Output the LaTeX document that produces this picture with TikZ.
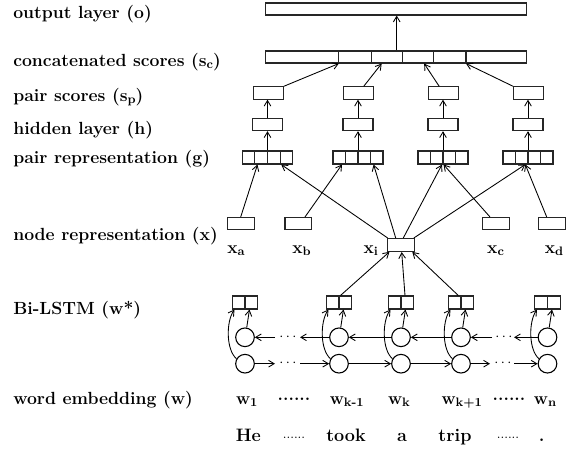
\documentclass[tikz,border=0pt]{standalone}
\usetikzlibrary{arrows.meta,calc}
\newcommand\lsub[1]{\raisebox{-0.3ex}{\fontsize{9.2}{10}\selectfont #1}}
\begin{document}
\begin{tikzpicture}[x=0.75pt,y=-0.75pt,
  bx/.style={draw=black!85, line width=0.8pt, inner sep=0pt, fill=white},
  wide/.style={bx, minimum width=195.2pt, minimum height=9pt},
  small/.style={bx, minimum width=22.5pt, minimum height=9.2pt},
  gbox/.style={bx, minimum width=37.5pt, minimum height=9.75pt},
  xbox/.style={bx, minimum width=20pt, minimum height=9pt},
  bbox/.style={bx, minimum width=19pt, minimum height=9.75pt},
  cir/.style={draw=black, line width=0.8pt, circle, inner sep=0pt, minimum size=14pt},
  cell/.style={draw=black!85, line width=0.8pt},
  arr/.style={-{Straight Barb[length=4.2pt,width=5pt]}, line width=0.65pt},
  lab/.style={font=\fontsize{13.2}{15}\selectfont\bfseries, inner sep=0pt},
  wl/.style={font=\fontsize{13}{15}\selectfont\bfseries, inner sep=0pt, anchor=base},
  sl/.style={font=\fontsize{13.5}{15}\selectfont\bfseries, inner sep=0pt, anchor=base},
  dts/.style={font=\fontsize{11}{13}\selectfont, inner sep=0pt}
]
\useasboundingbox (0,0) rectangle (572,453);

% left labels
\node[lab, anchor=base west] (l1) at (13,18.3) {output layer (o)};
\node[lab, anchor=base west] (l2) at (13,66.5) {concatenated scores (s\lsub{c})};
\node[lab, anchor=base west] (l3) at (13,101.5) {pair scores (s\lsub{p})};
\node[lab, anchor=base west] (l4) at (13,134.3) {hidden layer (h)};
\node[lab, anchor=base west] (l5) at (13,163.5) {pair representation (g)};
\node[lab, anchor=base west] (l6) at (13,240.5) {node representation (x)};
\node[lab, anchor=base west] (l7) at (13,314) {Bi-LSTM (w*)};
\node[lab, anchor=base west] (l8) at (13,404.3) {word embedding (w)};

% output and concatenated scores
\node[wide] (o) at (395.9,9) {};
\node[wide] (sc) at (395.9,57) {};
\foreach \f in {0.2816,0.4072,0.5248,0.6439,0.7683}
  \draw[cell] ($(sc.north west)!\f!(sc.north east)$) -- ($(sc.south west)!\f!(sc.south east)$);
\draw[arr] ($(sc.north)+(0.8,0)$) -- ($(o.south)+(0.8,0)$);

% pair groups
\foreach \i/\xx in {1/267.5,2/358,3/443,4/528}{
  \node[small] (sp\i) at (\xx+0.7,93) {};
  \node[small] (h\i) at (\xx,124.5) {};
  \node[gbox] (g\i) at (\xx,157.5) {};
  \foreach \f in {0.25,0.5,0.75}
    \draw[cell] ($(g\i.north west)!\f!(g\i.north east)$) -- ($(g\i.south west)!\f!(g\i.south east)$);
  \draw[arr] (h\i.north) -- (h\i.north |- sp\i.south);
  \draw[arr] (g\i.north) -- (g\i.north |- h\i.south);
}
\draw[arr] (sp1.north east) -- ($(sc.south west)!0.2816!(sc.south east)$);
\draw[arr] ($(sp2.north)+(5,0)$) -- ($(sc.south west)!0.4456!(sc.south east)$);
\draw[arr] ($(sp3.north)+(-4.5,0)$) -- ($(sc.south west)!0.6081!(sc.south east)$);
\draw[arr] (sp4.north west) -- ($(sc.south west)!0.7683!(sc.south east)$);

% node representations
\node[xbox] (xa) at (240.7,223.5) {};
\node[xbox] (xb) at (298.3,223.5) {};
\node[xbox, minimum height=9.75pt] (xi) at (401,245) {};
\node[xbox] (xc) at (496,223.5) {};
\node[xbox] (xd) at (551.7,223.5) {};
\node[wl] (txa) at (236,253.3) {x\lsub{a}};
\node[wl] (txb) at (301.5,253.3) {x\lsub{b}};
\node[wl] (txi) at (370.8,253.3) {x\lsub{i}};
\node[wl] (txc) at (495.6,253.3) {x\lsub{c}};
\node[wl] (txd) at (554,253.3) {x\lsub{d}};

\draw[arr] (xa.north) -- ($(g1.south)+(-10,0)$);
\draw[arr] ($(xi.north west)+(0.5,0)$) -- ($(g1.south)+(13.7,0)$);
\draw[arr] ($(xb.north)+(6.7,0)$) -- ($(g2.south)+(-16,0)$);
\draw[arr] ($(xi.north)+(-5.3,0)$) -- ($(g2.south)+(15.6,0)$);
\draw[arr] ($(xi.north)+(2.3,0)$) -- ($(g3.south)+(-1,0)$);
\draw[arr] ($(xc.north)+(-6,0)$) -- ($(g3.south)+(0.5,0)$);
\draw[arr] ($(xi.north east)+(-1,0)$) -- ($(g4.south)+(-2.7,0)$);
\draw[arr] ($(xd.north)+(-5,0)$) -- ($(g4.south)+(-2.7,0)$);

% Bi-LSTM
\foreach \i/\xx in {1/245,2/339,3/401,4/461,5/547.5}{
  \node[bbox] (b\i) at (\xx,302.5) {};
  \draw[cell] (b\i.north) -- (b\i.south);
  \node[cir] (u\i) at (\xx,337.3) {};
  \node[cir] (d\i) at (\xx,363.7) {};
  \draw[arr] (d\i.150) .. controls ($(d\i.center)+(-19,-14)$) and ($(b\i.south)+(-19,12)$) .. ($(b\i.south)+(-10.5,0)$);
  \draw[arr] (u\i.80) .. controls ($(u\i.80)+(1,-8)$) .. ($(b\i.south)+(4.5,0)$);
}
\draw[arr] ($(b2.north)+(1.5,0)$) -- ($(xi.south west)+(2.3,-0.2)$);
\draw[arr] ($(b3.north)+(4,0)$) -- ($(xi.south)+(0.7,0)$);
\draw[arr] ($(b4.north)+(-2.7,0)$) -- ($(xi.south east)+(-2.6,-0.2)$);

% backward row
\coordinate (ua) at (275,337.3);
\coordinate (ub) at (300,337.3);
\coordinate (uc) at (492,337.3);
\coordinate (ud) at (514,337.3);
\node[dts] (udl) at (288,337.3) {$\cdots$};
\node[dts] (udr) at (504,337.3) {$\cdots$};
\draw[arr] (ua) -- (u1.east);
\draw[arr] (u2.west) -- (ub);
\draw[arr] (u3.west) -- (u2.east);
\draw[arr] (u4.west) -- (u3.east);
\draw[arr] (uc) -- (u4.east);
\draw[arr] (u5.west) -- (ud);

% forward row
\coordinate (da) at (275,363.7);
\coordinate (db) at (300,363.7);
\coordinate (dc) at (490,363.7);
\coordinate (dd) at (514,363.7);
\node[dts] (ddl) at (288,363.7) {$\cdots$};
\node[dts] (ddr) at (503,363.7) {$\cdots$};
\draw[arr] (d1.east) -- (da);
\draw[arr] (db) -- (d2.west);
\draw[arr] (d2.east) -- (d3.west);
\draw[arr] (d3.east) -- (d4.west);
\draw[arr] (d4.east) -- (dc);
\draw[arr] (dd) -- (d5.west);

% word embeddings
\node[wl] (w1) at (246.7,404.3) {w\lsub{1}};
\node[wl] (wdl) at (294,404.3) {\raisebox{0.45ex}{......}};
\node[wl] (wk1) at (346.7,404.3) {w\lsub{k-1}};
\node[wl] (wk) at (399,404.3) {w\lsub{k}};
\node[wl] (wk2) at (461.7,404.3) {w\lsub{k+1}};
\node[wl] (wdr) at (509,404.3) {\raisebox{0.45ex}{......}};
\node[wl] (wn) at (545,404.3) {w\lsub{n}};

% sentence
\node[sl] (s1) at (248.3,441.7) {He};
\node[sl, font=\fontsize{10}{12}\selectfont] (s2) at (294,441.7) {\raisebox{0.55ex}{......}};
\node[sl] (s3) at (346,441.7) {took};
\node[sl] (s4) at (402,441.7) {a};
\node[sl] (s5) at (455,441.7) {trip};
\node[sl, font=\fontsize{10}{12}\selectfont] (s6) at (508,441.7) {\raisebox{0.55ex}{......}};
\node[sl] (s7) at (541.7,441.7) {.};
\end{tikzpicture}
\end{document}
